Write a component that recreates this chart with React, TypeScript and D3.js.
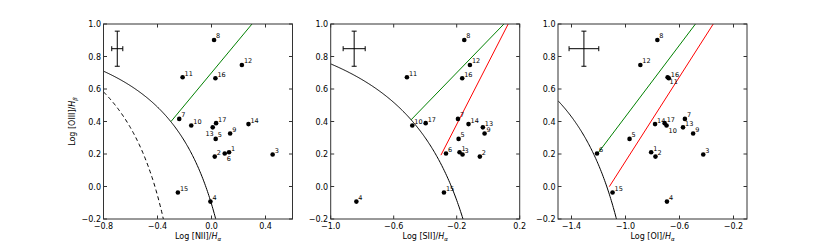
import React from 'react';
import * as d3 from 'd3';

// galaxy ids and line ratios
const ids = [1, 2, 3, 4, 5, 6, 7, 8, 9, 10, 11, 12, 13, 14, 15, 16, 17];
const oiiiHb = [0.211, 0.184, 0.197, -0.093, 0.293, 0.203, 0.416, 0.902, 0.326, 0.375, 0.672, 0.748, 0.364, 0.384, -0.037, 0.666, 0.39];
const niiHa = [0.13, 0.024, 0.453, -0.008, 0.031, 0.098, -0.239, 0.019, 0.138, -0.15, -0.214, 0.225, 0.009, 0.274, -0.249, 0.029, 0.034];
const siiHa = [-0.182, -0.053, -0.163, -0.837, -0.188, -0.268, -0.192, -0.152, -0.023, -0.482, -0.516, -0.116, -0.034, -0.125, -0.281, -0.165, -0.397];
const oiHa = [-0.81, -0.778, -0.424, -0.693, -0.97, -1.211, -0.56, -0.764, -0.499, -0.696, -0.688, -0.89, -0.574, -0.781, -1.096, -0.679, -0.71];

const yTicks = [-0.2, 0.0, 0.2, 0.4, 0.6, 0.8, 1.0];
const niiTicks = [-0.8, -0.4, 0.0, 0.4];
const siiTicks = [-1.0, -0.6, -0.2, 0.2];
const oiTicks = [-1.4, -1.0, -0.6, -0.2];

const lineNames = ['NII', 'SII', 'OI'];
const xDomains: [number, number][] = [[-0.8, 0.6], [-1.0, 0.2], [-1.5, -0.1]];

// typical error bars shown in the corner
const errCenters = [[-0.698, 0.848], [-0.851, 0.848], [-1.308, 0.848]];
const errX = [0.041, 0.07, 0.11];
const errY = [0.108, 0.108, 0.108];

// label placement exceptions (per panel)
const labelPlace: Record<string, string>[] = [
  { '13': 'dl', '6': 'dr' },
  {},
  { '11': 'dr', '10': 'dr' },
];

const W = 830;
const H = 244;
const top = 24;
const bottom = 219;
const panelW = 189;
const panelLefts = [103.5, 330.7, 558];

const fmt = (v: number) => (v < 0 ? '\u2212' : '') + Math.abs(v).toFixed(1);

const kewley = [
  (x: number) => 0.61 / (x - 0.47) + 1.19,
  (x: number) => 0.72 / (x - 0.32) + 1.3,
  (x: number) => 0.73 / (x + 0.59) + 1.33,
];
const kewleyEnd = [0.1, -0.1, -1.0];
const kauffmann = (x: number) => 0.61 / (x - 0.05) + 1.3;

// straight dividing lines: [slope, intercept, start x]
const greenLines = [[1.0, 0.7, -0.3], [1.0, 0.9, -0.49], [1.1, 1.53, -1.21]];
const redLines: (number[] | null)[] = [null, [1.89, 0.76, -0.3], [1.3, 1.455, -1.12]];

const xTickSets = [niiTicks, siiTicks, oiTicks];
const xValueSets = [niiHa, siiHa, oiHa];

const Panel = ({ i }: { i: number }) => {
  const left = panelLefts[i];
  const x = d3.scaleLinear().domain(xDomains[i]).range([left, left + panelW]);
  const y = d3.scaleLinear().domain([-0.2, 1.0]).range([bottom, top]);
  const xs = xValueSets[i];

  const line = d3.line<number>().x((d) => x(d)).y((d) => y(kewley[i](d)));
  const curveX = d3.range(xDomains[i][0], kewleyEnd[i], 0.005);
  const kaufX = d3.range(-0.8, -0.3, 0.005);
  const kaufLine = d3.line<number>().x((d) => x(d)).y((d) => y(kauffmann(d)));

  const straight = (l: number[]) => {
    const x1 = xDomains[i][1];
    return `M${x(l[2])},${y(l[0] * l[2] + l[1])}L${x(x1)},${y(l[0] * x1 + l[1])}`;
  };

  const [cx, cy] = errCenters[i];
  const clipId = `clip${i}`;
  const frame = '#333';
  const tl = 3.5;

  return (
    <g>
      <defs>
        <clipPath id={clipId}>
          <rect x={left} y={top} width={panelW} height={bottom - top} />
        </clipPath>
      </defs>
      <g clipPath={`url(#${clipId})`} fill="none" strokeWidth={1}>
        <path d={line(curveX) || ''} stroke="#000" />
        {i === 0 && <path d={kaufLine(kaufX) || ''} stroke="#000" strokeDasharray="4,3" />}
        <path d={straight(greenLines[i])} stroke="#008000" />
        {redLines[i] && <path d={straight(redLines[i] as number[])} stroke="#ff0000" />}
      </g>

      {/* error cross */}
      <g stroke="#000" strokeWidth={1}>
        <line x1={x(cx - errX[i])} x2={x(cx + errX[i])} y1={y(cy)} y2={y(cy)} />
        <line x1={x(cx)} x2={x(cx)} y1={y(cy - errY[i])} y2={y(cy + errY[i])} />
        <line x1={x(cx) - 2.5} x2={x(cx) + 2.5} y1={y(cy - errY[i])} y2={y(cy - errY[i])} />
        <line x1={x(cx) - 2.5} x2={x(cx) + 2.5} y1={y(cy + errY[i])} y2={y(cy + errY[i])} />
        <line x1={x(cx - errX[i])} x2={x(cx - errX[i])} y1={y(cy) - 2.5} y2={y(cy) + 2.5} />
        <line x1={x(cx + errX[i])} x2={x(cx + errX[i])} y1={y(cy) - 2.5} y2={y(cy) + 2.5} />
      </g>

      {/* points */}
      {ids.map((id, k) => {
        const px = x(xs[k]);
        const py = y(oiiiHb[k]);
        const place = labelPlace[i][String(id)] || 'ur';
        let tx = px + 2;
        let ty = py - 1.5;
        let anchor = 'start';
        if (place === 'dr') {
          tx = px + 2;
          ty = py + 7;
        } else if (place === 'dl') {
          tx = px + 1;
          ty = py + 8.5;
          anchor = 'end';
        }
        return (
          <g key={id}>
            <circle cx={px} cy={py} r={2.3} fill="#000" />
            <text x={tx} y={ty} fontSize={6.5} textAnchor={anchor} fill="#000">{id}</text>
          </g>
        );
      })}

      {/* frame */}
      <rect x={left} y={top} width={panelW} height={bottom - top} fill="none" stroke={frame} strokeWidth={1} />

      {/* ticks */}
      <g stroke={frame} strokeWidth={1}>
        {xTickSets[i].map((t) => (
          <g key={t}>
            <line x1={x(t)} x2={x(t)} y1={bottom} y2={bottom - tl} />
            <line x1={x(t)} x2={x(t)} y1={top} y2={top + tl} />
          </g>
        ))}
        {yTicks.map((t) => (
          <g key={t}>
            <line x1={left} x2={left + tl} y1={y(t)} y2={y(t)} />
            <line x1={left + panelW} x2={left + panelW - tl} y1={y(t)} y2={y(t)} />
          </g>
        ))}
      </g>

      {/* tick labels */}
      <g fontSize={8} fill="#000">
        {xTickSets[i].map((t) => (
          <text key={t} x={x(t)} y={229} textAnchor="middle">{fmt(t)}</text>
        ))}
        {yTicks.map((t) => (
          <text key={t} x={left - 2.5} y={y(t) + 3} textAnchor="end">{fmt(t)}</text>
        ))}
      </g>

      {/* x label */}
      <text x={left + panelW / 2} y={239} fontSize={8} textAnchor="middle" fill="#000">
        Log [{lineNames[i]}]/<tspan fontStyle="italic">H</tspan>
        <tspan fontSize={5.5} dy={1.8} fontStyle="italic">α</tspan>
      </text>
    </g>
  );
};

const App = () => {
  return (
    <svg
      width={W}
      height={H}
      style={{ position: 'absolute', left: 0, top: 0, background: '#fff', fontFamily: 'DejaVu Sans, sans-serif' }}
    >
      {[0, 1, 2].map((i) => (
        <Panel key={i} i={i} />
      ))}
      <text transform={`translate(75,${(top + bottom) / 2}) rotate(-90)`} fontSize={8} textAnchor="middle" fill="#000">
        Log [OIII]/<tspan fontStyle="italic">H</tspan>
        <tspan fontSize={5.5} dy={1.8} fontStyle="italic">β</tspan>
      </text>
    </svg>
  );
};

export default App;
